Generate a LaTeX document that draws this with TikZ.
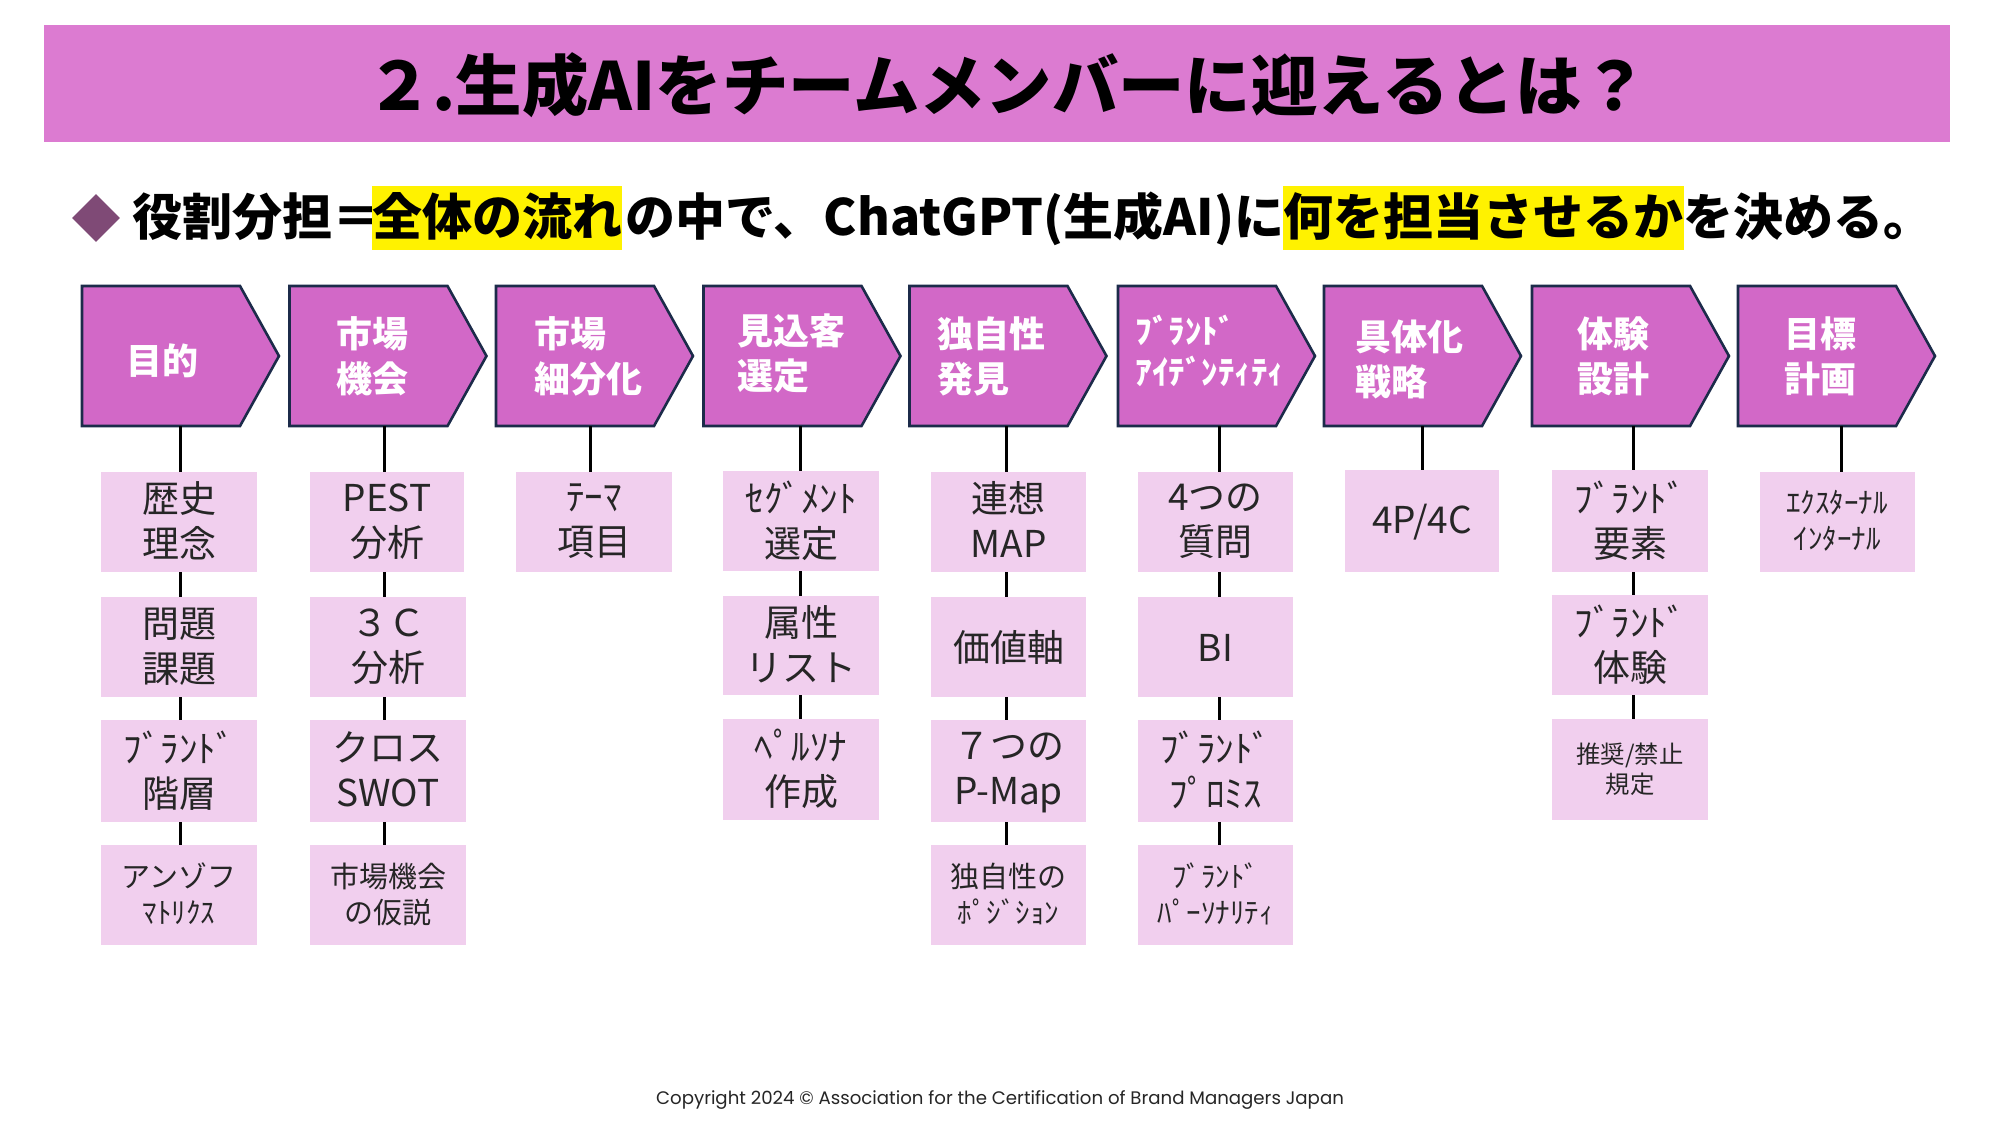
\documentclass[tikz,border=0pt]{standalone}
\usepackage{fontspec}
\usetikzlibrary{shapes.geometric,shapes.symbols}
\setmainfont{Noto Sans CJK JP}
\newfontfamily\footfont{Poppins}
\newcommand{\bstrut}{\rule[-.12em]{0pt}{1em}}
\definecolor{headbg}{HTML}{DC7BD1}
\definecolor{chevbg}{HTML}{D268C7}
\definecolor{chevln}{HTML}{1C2B4A}
\definecolor{subbg}{HTML}{F1CFEE}
\definecolor{diam}{HTML}{7F4A76}
\tikzset{
 wh/.style 2 args={minimum width=#1*0.5pt,minimum height=#2*0.5pt},
 chev/.style={shape=signal,signal to=east,signal from=nowhere,signal pointer angle=121.8,draw=chevln,fill=chevbg,line width=1.3pt,inner sep=0pt,outer sep=0pt,minimum width=98.5pt,minimum height=70pt},
 chevtext/.style={text=white,font=\bfseries\fontsize{18}{22.5}\selectfont,align=left,inner sep=0pt},
 subbox/.style={fill=subbg,inner sep=0pt,outer sep=0pt,align=center,text=black!85,execute at begin node=\bstrut,execute at end node=\bstrut},
 big/.style={font=\fontsize{18.5}{22.5}\selectfont},
 small/.style={font=\fontsize{14.5}{18}\selectfont},
 tiny/.style={font=\fontsize{12.2}{15}\selectfont},
 conn/.style={draw=black,line width=1.5pt},
 subt/.style={font=\bfseries\fontsize{25}{30}\selectfont,inner sep=0pt,outer sep=0pt,text=black,text height=24.5pt,text depth=7.5pt},
 hl/.style={fill=yellow},
}
\begin{document}
\begin{tikzpicture}[x=0.5pt,y=-0.5pt]
\useasboundingbox (0,0) rectangle (2000,1125);
\fill[white] (0,0) rectangle (2000,1125);
% header
\node[fill=headbg,wh={1906}{117},inner sep=0pt] (head) at (997,83.5) {};
\node[font=\bfseries\fontsize{33.2}{36}\selectfont,inner sep=0pt] (title) at (1007,85) {２.生成AIをチームメンバーに迎えるとは？};
% subtitle
\node[shape=diamond,fill=diam,inner sep=0pt,wh={48}{48}] (dia) at (96,218) {};
\node[subt] (s1) at (257,218) {役割分担＝};
\node[subt,hl,minimum width=125pt] (s2) at (497,218) {全体の流れ};
\node[subt] (s3) at (955,218) {の中で、ChatGPT(生成AI)に};
\node[subt,hl,minimum width=200.5pt] (s4) at (1483.5,218) {何を担当させるか};
\node[subt] (s5) at (1808,218) {を決める。};
% chevrons
\node[chev] (c1) at (161,356) {};
\node[chev] (c2) at (368.5,356) {};
\node[chev] (c3) at (575,356) {};
\node[chev] (c4) at (782.5,356) {};
\node[chev] (c5) at (988.5,356) {};
\node[chev] (c6) at (1197,356) {};
\node[chev] (c7) at (1403,356) {};
\node[chev] (c8) at (1611,356) {};
\node[chev] (c9) at (1817,356) {};
\node[chevtext] (t1) at (162,361) {目的};
\node[chevtext] (t2) at (372,356) {市場\\機会};
\node[chevtext] (t3) at (588,356) {市場\\細分化};
\node[chevtext] (t4) at (791,353) {見込客\\選定};
\node[chevtext] (t5) at (991,356) {独自性\\発見};
\node[chevtext,font=\bfseries\fontsize{16.5}{20.5}\selectfont] (t6) at (1210,351) {ﾌﾞﾗﾝﾄﾞ\\ｱｲﾃﾞﾝﾃｨﾃｨ};
\node[chevtext] (t7) at (1409,359) {具体化\\戦略};
\node[chevtext] (t8) at (1613,356) {体験\\設計};
\node[chevtext] (t9) at (1820,356) {目標\\計画};
% column 1
\node[subbox,big,wh={156}{100}] (a1) at (179,522) {歴史\\理念};
\node[subbox,big,wh={156}{100}] (a2) at (179,647) {問題\\課題};
\node[subbox,big,wh={156}{102}] (a3) at (179,771) {ﾌﾞﾗﾝﾄﾞ\\階層};
\node[subbox,small,wh={156}{100}] (a4) at (179,895) {アンゾフ\\ﾏﾄﾘｸｽ};
% column 2
\node[subbox,big,wh={154}{100}] (b1) at (387,522) {PEST\\分析};
\node[subbox,big,wh={156}{100}] (b2) at (388,647) {３Ｃ\\分析};
\node[subbox,big,wh={156}{102}] (b3) at (388,771) {クロス\\SWOT};
\node[subbox,small,wh={156}{100}] (b4) at (388,895) {市場機会\\の仮説};
% column 3
\node[subbox,big,wh={156}{100}] (d1) at (594,522) {ﾃｰﾏ\\項目};
% column 4
\node[subbox,big,wh={156}{100}] (e1) at (801,521) {ｾｸﾞﾒﾝﾄ\\選定};
\node[subbox,big,wh={156}{99}] (e2) at (801,645.5) {属性\\リスト};
\node[subbox,big,wh={156}{101}] (e3) at (801,769.5) {ﾍﾟﾙｿﾅ\\作成};
% column 5
\node[subbox,big,wh={155}{100}] (f1) at (1008.5,522) {連想\\MAP};
\node[subbox,big,wh={155}{100}] (f2) at (1008.5,647) {価値軸};
\node[subbox,big,wh={155}{102}] (f3) at (1008.5,771) {７つの\\\smash{P-Map}};
\node[subbox,small,wh={155}{100}] (f4) at (1008.5,895) {独自性の\\ﾎﾟｼﾞｼｮﾝ};
% column 6
\node[subbox,big,wh={155}{100}] (g1) at (1215.5,522) {4つの\\質問};
\node[subbox,big,wh={155}{100}] (g2) at (1215.5,647) {BI};
\node[subbox,big,wh={155}{102}] (g3) at (1215.5,771) {ﾌﾞﾗﾝﾄﾞ\\ﾌﾟﾛﾐｽ};
\node[subbox,small,wh={155}{100}] (g4) at (1215.5,895) {ﾌﾞﾗﾝﾄﾞ\\ﾊﾟｰｿﾅﾘﾃｨ};
% column 7
\node[subbox,big,wh={154}{102}] (h1) at (1422,521) {4P/4C};
% column 8
\node[subbox,big,wh={156}{102}] (i1) at (1630,521) {ﾌﾞﾗﾝﾄﾞ\\要素};
\node[subbox,big,wh={156}{100}] (i2) at (1630,645) {ﾌﾞﾗﾝﾄﾞ\\体験};
\node[subbox,tiny,wh={156}{101}] (i3) at (1630,769.5) {推奨/禁止\\規定};
% column 9
\node[subbox,small,wh={155}{100}] (j1) at (1837,522) {ｴｸｽﾀｰﾅﾙ\\ｲﾝﾀｰﾅﾙ};
% connector x positions
\coordinate (xa) at (180,0);
\coordinate (xb) at (384,0);
\coordinate (xd) at (590,0);
\coordinate (xe) at (800,0);
\coordinate (xf) at (1006,0);
\coordinate (xg) at (1219,0);
\coordinate (xh) at (1422,0);
\coordinate (xi) at (1633,0);
\coordinate (xj) at (1841,0);
\draw[conn] (c1.south -| xa) -- (a1.north -| xa);
\draw[conn] (a1.south -| xa) -- (a2.north -| xa);
\draw[conn] (a2.south -| xa) -- (a3.north -| xa);
\draw[conn] (a3.south -| xa) -- (a4.north -| xa);
\draw[conn] (c2.south -| xb) -- (b1.north -| xb);
\draw[conn] (b1.south -| xb) -- (b2.north -| xb);
\draw[conn] (b2.south -| xb) -- (b3.north -| xb);
\draw[conn] (b3.south -| xb) -- (b4.north -| xb);
\draw[conn] (c3.south -| xd) -- (d1.north -| xd);
\draw[conn] (c4.south -| xe) -- (e1.north -| xe);
\draw[conn] (e1.south -| xe) -- (e2.north -| xe);
\draw[conn] (e2.south -| xe) -- (e3.north -| xe);
\draw[conn] (c5.south -| xf) -- (f1.north -| xf);
\draw[conn] (f1.south -| xf) -- (f2.north -| xf);
\draw[conn] (f2.south -| xf) -- (f3.north -| xf);
\draw[conn] (f3.south -| xf) -- (f4.north -| xf);
\draw[conn] (c6.south -| xg) -- (g1.north -| xg);
\draw[conn] (g1.south -| xg) -- (g2.north -| xg);
\draw[conn] (g2.south -| xg) -- (g3.north -| xg);
\draw[conn] (g3.south -| xg) -- (g4.north -| xg);
\draw[conn] (c7.south -| xh) -- (h1.north -| xh);
\draw[conn] (c8.south -| xi) -- (i1.north -| xi);
\draw[conn] (i1.south -| xi) -- (i2.north -| xi);
\draw[conn] (i2.south -| xi) -- (i3.north -| xi);
\draw[conn] (c9.south -| xj) -- (j1.north -| xj);
% footer
\node[font=\footfont\fontsize{9.08}{12}\selectfont,inner sep=0pt,text=black!85] (foot) at (1000,1100) {Copyright 2024 © Association for the Certification of Brand Managers Japan};
\end{tikzpicture}
\end{document}
